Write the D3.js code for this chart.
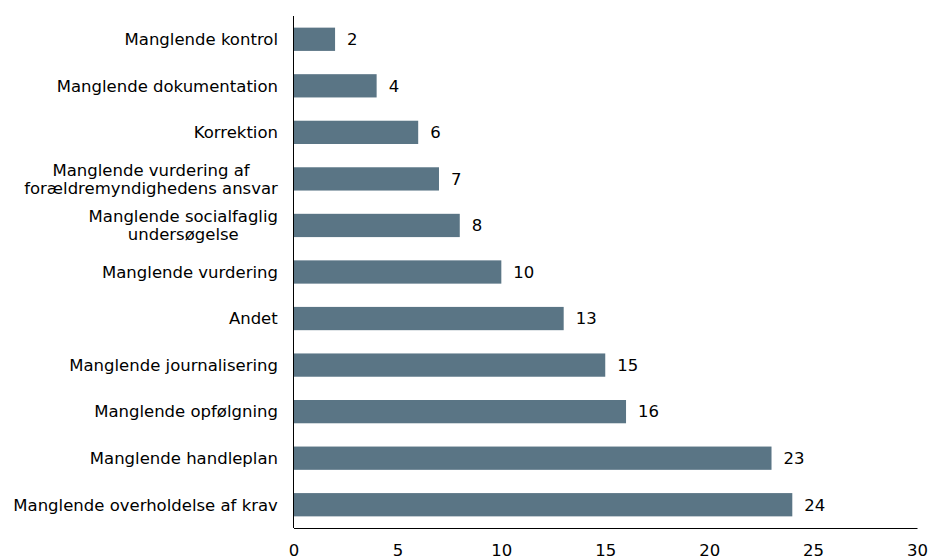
<!DOCTYPE html>
<html>
<head>
<meta charset="utf-8">
<script src="https://cdn.jsdelivr.net/npm/d3@7"></script>
<style>
  body { margin: 0; background: #fff; }
  text { font-family: Verdana, "DejaVu Sans", sans-serif; font-size: 16.5px; fill: #000; }
</style>
</head>
<body>
<svg id="chart" width="929" height="559"></svg>
<script>
const categories = [
  'Manglende kontrol',
  'Manglende dokumentation',
  'Korrektion',
  'Manglende vurdering af|forældremyndighedens ansvar',
  'Manglende socialfaglig|undersøgelse',
  'Manglende vurdering',
  'Andet',
  'Manglende journalisering',
  'Manglende opfølgning',
  'Manglende handleplan',
  'Manglende overholdelse af krav'
];
const values = [2, 4, 6, 7, 8, 10, 13, 15, 16, 23, 24];
const xTicks = [0, 5, 10, 15, 20, 25, 30];

const svg = d3.select('#chart');
const plotLeft = 293.5, plotRight = 917, plotTop = 16, plotBottom = 528;

const x = d3.scaleLinear().domain([0, 30]).range([plotLeft, plotRight]);
const y = d3.scaleBand().domain(categories).range([plotTop, plotBottom])
  .paddingInner(0.5).paddingOuter(0.25);

// bars
svg.append('g').selectAll('rect').data(values).join('rect')
  .attr('x', x(0))
  .attr('y', (d, i) => y(categories[i]))
  .attr('width', d => x(d) - x(0))
  .attr('height', y.bandwidth())
  .attr('fill', '#5a7585');

// value labels
svg.append('g').selectAll('text').data(values).join('text')
  .attr('x', d => x(d) + 12)
  .attr('y', (d, i) => y(categories[i]) + y.bandwidth() / 2)
  .attr('dy', '0.35em')
  .text(d => d);

// category labels
const labels = svg.append('g').selectAll('text').data(categories).join('text')
  .attr('text-anchor', 'middle')
  .attr('y', d => y(d) + y.bandwidth() / 2);
labels.each(function (d) {
  const lines = d.split('|');
  const t = d3.select(this);
  lines.forEach((line, j) => {
    t.append('tspan')
      .attr('x', 0)
      .attr('dy', j === 0 ? `${0.35 - (lines.length - 1) * 0.55}em` : '1.1em')
      .text(line);
  });
});
// right-align the label blocks, centre lines inside each block
labels.each(function () {
  const w = this.getBBox().width;
  d3.select(this).selectAll('tspan').attr('x', 278 - w / 2);
});

// axes
const xAxis = svg.append('g')
  .attr('transform', `translate(0,${plotBottom})`)
  .call(d3.axisBottom(x).tickValues(xTicks).tickSize(0).tickPadding(16));
xAxis.attr('font-family', null).attr('font-size', null);
xAxis.select('.domain').attr('stroke', '#000');
xAxis.selectAll('text').attr('fill', null);

svg.append('line')
  .attr('x1', plotLeft).attr('x2', plotLeft)
  .attr('y1', plotTop).attr('y2', plotBottom)
  .attr('stroke', '#000');
</script>
</body>
</html>
